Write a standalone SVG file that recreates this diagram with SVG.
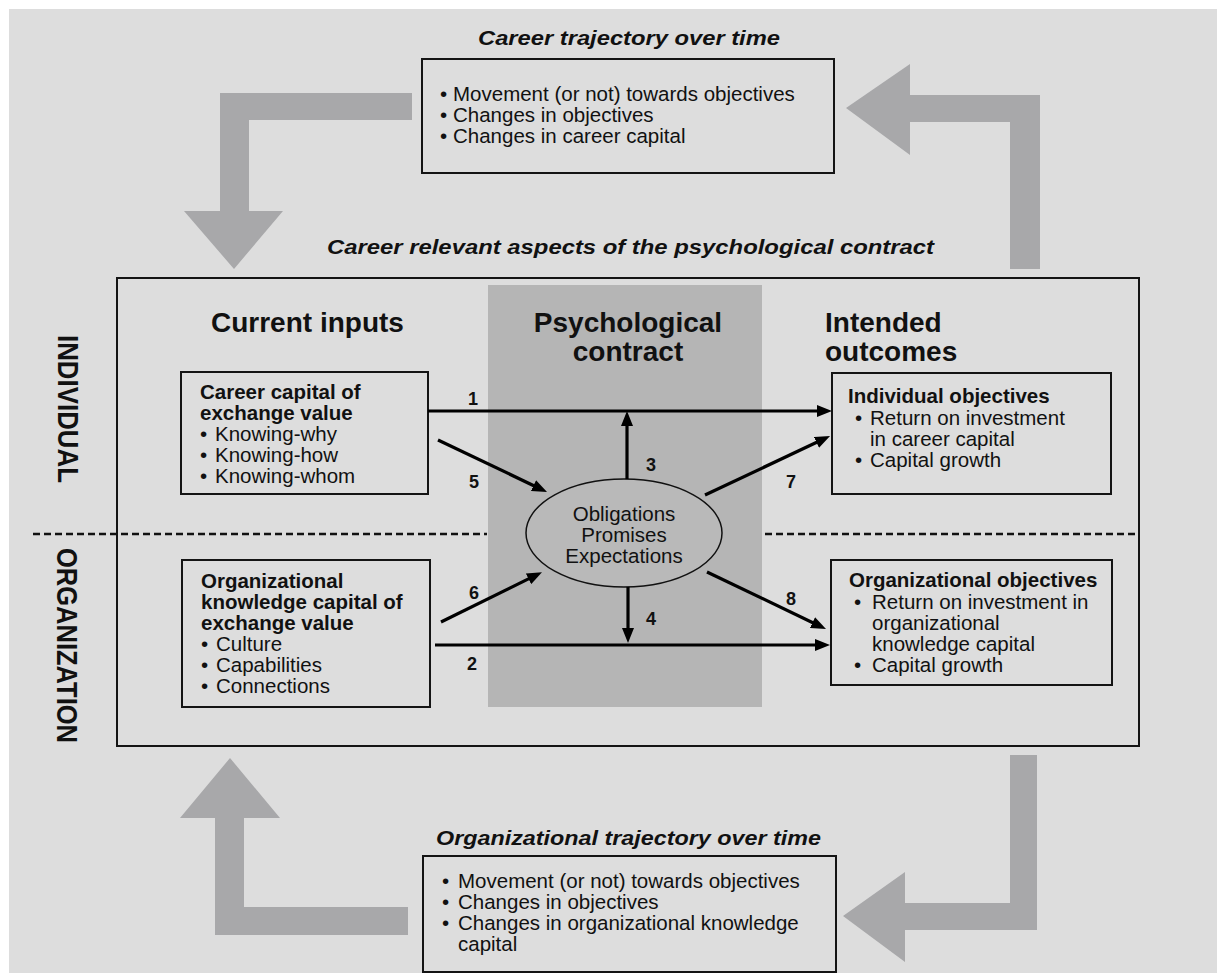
<svg xmlns="http://www.w3.org/2000/svg" width="1217" height="978" viewBox="0 0 1217 978">
<style>
.t{font-family:"Liberation Sans",Arial,Helvetica,sans-serif;fill:#111}
.b{font-size:20.5px}
.bd{font-size:20.5px;font-weight:bold}
.hdr{font-size:28px;font-weight:bold}
.title{font-size:20px;font-weight:bold;font-style:italic}
.num{font-size:18px;font-weight:bold}
.side{font-size:29px;font-weight:bold}
.box{fill:none;stroke:#141414;stroke-width:2}
.big{fill:#a8a8aa}
.conn{stroke:#000;stroke-width:3.2;fill:none;marker-end:url(#ah)}
.dash{stroke:#111;stroke-width:2.5;stroke-dasharray:7 4;fill:none}
</style>
<defs>
<marker id="ah" markerUnits="userSpaceOnUse" markerWidth="15" markerHeight="12" refX="5" refY="6" orient="auto">
<path d="M0,0 L15,6 L0,12 z" fill="#000"/>
</marker>
</defs>
<rect x="0" y="0" width="1217" height="978" fill="#ffffff"/>
<rect x="9" y="9" width="1208" height="964" fill="#dddddd"/>

<g id="loop-arrows">
<polygon class="big" points="412,93 220,93 220,211 184,211 234,269 283,211 249,211 249,120 412,120"/>
<polygon class="big" points="1040,269 1040,95 910,95 910,64 846,108 910,155 910,122 1010,122 1010,269"/>
<polygon class="big" points="408,907 244,907 244,818 280,818 230,758 180,818 215,818 215,935 408,935"/>
<polygon class="big" points="1010,755 1037,755 1037,930 905,930 905,962 843,916 905,872 905,903 1010,903"/>
</g>

<g id="career-trajectory">
<text class="t title" x="478" y="45" textLength="302" lengthAdjust="spacingAndGlyphs">Career trajectory over time</text>
<rect class="box" x="422" y="59" width="412" height="114"/>
<text class="t b" x="440" y="101">•</text><text class="t b" x="453" y="101">Movement (or not) towards objectives</text>
<text class="t b" x="440" y="122">•</text><text class="t b" x="453" y="122">Changes in objectives</text>
<text class="t b" x="440" y="143">•</text><text class="t b" x="453" y="143">Changes in career capital</text>
</g>

<g id="org-trajectory">
<text class="t title" x="436" y="845" textLength="385" lengthAdjust="spacingAndGlyphs">Organizational trajectory over time</text>
<rect class="box" x="423" y="856" width="413" height="116"/>
<text class="t b" x="442" y="888">•</text><text class="t b" x="458" y="888">Movement (or not) towards objectives</text>
<text class="t b" x="442" y="909">•</text><text class="t b" x="458" y="909">Changes in objectives</text>
<text class="t b" x="442" y="930">•</text><text class="t b" x="458" y="930">Changes in organizational knowledge</text>
<text class="t b" x="458" y="951">capital</text>
</g>

<g id="contract-frame">
<text class="t title" x="327" y="254" textLength="607" lengthAdjust="spacingAndGlyphs">Career relevant aspects of the psychological contract</text>
<rect class="box" x="117" y="278" width="1022" height="468"/>
<rect x="488" y="285" width="274" height="422" fill="#b5b5b5"/>
<text class="t hdr" x="211" y="332">Current inputs</text>
<text class="t hdr" x="628" y="332" text-anchor="middle">Psychological</text>
<text class="t hdr" x="628" y="361" text-anchor="middle">contract</text>
<text class="t hdr" x="825" y="332">Intended</text>
<text class="t hdr" x="825" y="361">outcomes</text>
<text class="t side" transform="translate(58,335) rotate(90)" textLength="148" lengthAdjust="spacingAndGlyphs">INDIVIDUAL</text>
<text class="t side" transform="translate(57,548) rotate(90)" textLength="195" lengthAdjust="spacingAndGlyphs">ORGANIZATION</text>
<line class="dash" x1="33" y1="534" x2="487" y2="534"/>
<line class="dash" x1="765" y1="534" x2="1137" y2="534"/>
</g>

<g id="career-capital">
<rect class="box" x="181" y="372" width="247" height="122"/>
<text class="t bd" x="200" y="399">Career capital of</text>
<text class="t bd" x="200" y="420">exchange value</text>
<text class="t b" x="200" y="441">•</text><text class="t b" x="215" y="441">Knowing-why</text>
<text class="t b" x="200" y="462">•</text><text class="t b" x="215" y="462">Knowing-how</text>
<text class="t b" x="200" y="483">•</text><text class="t b" x="215" y="483">Knowing-whom</text>
</g>

<g id="org-knowledge-capital">
<rect class="box" x="182" y="560" width="248" height="147"/>
<text class="t bd" x="201" y="588">Organizational</text>
<text class="t bd" x="201" y="609">knowledge capital of</text>
<text class="t bd" x="201" y="630">exchange value</text>
<text class="t b" x="201" y="651">•</text><text class="t b" x="216" y="651">Culture</text>
<text class="t b" x="201" y="672">•</text><text class="t b" x="216" y="672">Capabilities</text>
<text class="t b" x="201" y="693">•</text><text class="t b" x="216" y="693">Connections</text>
</g>

<g id="individual-objectives">
<rect class="box" x="832" y="373" width="279" height="121"/>
<text class="t bd" x="848" y="403">Individual objectives</text>
<text class="t b" x="855" y="425">•</text><text class="t b" x="870" y="425">Return on investment</text>
<text class="t b" x="870" y="446">in career capital</text>
<text class="t b" x="855" y="467">•</text><text class="t b" x="870" y="467">Capital growth</text>
</g>

<g id="organizational-objectives">
<rect class="box" x="831" y="560" width="281" height="125"/>
<text class="t bd" x="849" y="587">Organizational objectives</text>
<text class="t b" x="854" y="609">•</text><text class="t b" x="872" y="609">Return on investment in</text>
<text class="t b" x="872" y="630">organizational</text>
<text class="t b" x="872" y="651">knowledge capital</text>
<text class="t b" x="854" y="672">•</text><text class="t b" x="872" y="672">Capital growth</text>
</g>

<g id="psych-contract">
<ellipse cx="624" cy="533" rx="98" ry="54" fill="#b9b9b9" stroke="#111" stroke-width="1.5"/>
<text class="t b" x="624" y="521" text-anchor="middle">Obligations</text>
<text class="t b" x="624" y="542" text-anchor="middle">Promises</text>
<text class="t b" x="624" y="563" text-anchor="middle">Expectations</text>
</g>

<g id="connectors">
<line class="conn" x1="428" y1="411" x2="822" y2="411"/>
<line class="conn" x1="435" y1="645" x2="820" y2="645"/>
<line class="conn" x1="627" y1="479" x2="627" y2="421"/>
<line class="conn" x1="628" y1="587" x2="628" y2="633"/>
<line class="conn" x1="438" y1="440" x2="538" y2="487.7"/>
<line class="conn" x1="441" y1="622" x2="533" y2="576.6"/>
<line class="conn" x1="705" y1="495" x2="821" y2="440.3"/>
<line class="conn" x1="707" y1="572" x2="817" y2="624.7"/>
<text class="t num" x="468" y="405">1</text>
<text class="t num" x="467" y="670">2</text>
<text class="t num" x="646" y="471">3</text>
<text class="t num" x="646" y="625">4</text>
<text class="t num" x="469" y="488">5</text>
<text class="t num" x="469" y="599">6</text>
<text class="t num" x="786" y="488">7</text>
<text class="t num" x="786" y="605">8</text>
</g>
</svg>
